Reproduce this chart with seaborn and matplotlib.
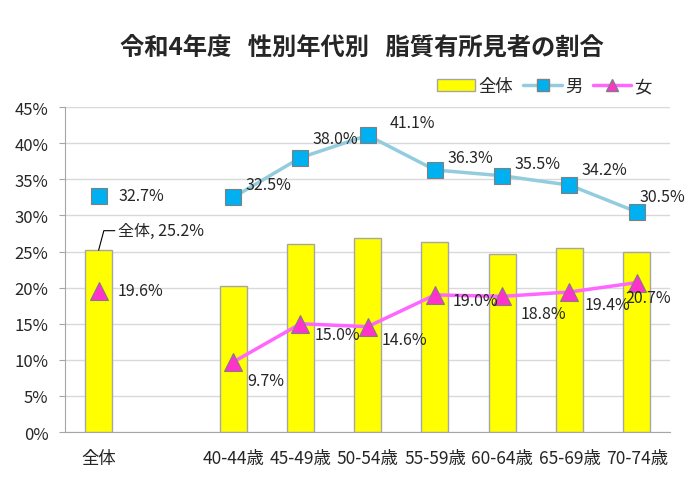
import numpy as np
import pandas as pd
import matplotlib
matplotlib.use("Agg")
import matplotlib.pyplot as plt
import seaborn as sns
from matplotlib.patches import Patch
from matplotlib.lines import Line2D

categories = ["全体", " ", "40-44歳", "45-49歳", "50-54歳", "55-59歳", "60-64歳", "65-69歳", "70-74歳"]
total = [25.2, np.nan, 20.2, 26.1, 26.9, 26.3, 24.7, 25.5, 24.9]
male = [32.7, np.nan, 32.5, 38.0, 41.1, 36.3, 35.5, 34.2, 30.5]
female = [19.6, np.nan, 9.7, 15.0, 14.6, 19.0, 18.8, 19.4, 20.7]
title = "令和4年度   性別年代別   脂質有所見者の割合"

sns.set_style("white")
plt.rcParams["font.family"] = ["Noto Sans CJK JP", "DejaVu Sans"]

df = pd.DataFrame({"cat": categories, "total": total})

fig = plt.figure(figsize=(6.99, 4.85), dpi=100)
ax = fig.add_axes([0.093, 0.107, 0.866, 0.670])

sns.barplot(data=df, x="cat", y="total", order=categories, color="#FFFF00",
            saturation=1, edgecolor="#A6A6A6", linewidth=1, width=0.4, ax=ax)

x = np.arange(len(categories))
ax.plot(x, male, color="#93CDDD", lw=2.5, marker="s", ms=12,
        mfc="#00B0F0", mec="#7F7F7F", mew=0.8, zorder=4)
ax.plot(x, female, color="#FF66FF", lw=2.5, marker="^", ms=13,
        mfc="#FF33CC", mec="#7F7F7F", mew=0.8, zorder=4)

# data labels (offsets in points)
male_off = [(14, 0), None, (9, 9), (9, 14), (16, 9), (9, 9), (9, 9), (9, 11), (2, 11)]
female_off = [(14, 0), None, (10, -13), (10, -8), (10, -9), (13, -4), (13, -12), (11, -9), (-8, -11)]
for i in range(len(categories)):
    if male_off[i] is not None:
        dx, dy = male_off[i]
        ax.annotate(f"{male[i]:.1f}%", (x[i], male[i]), xytext=(dx, dy),
                    textcoords="offset points", ha="left", va="center",
                    fontsize=11.5, zorder=5)
    if female_off[i] is not None:
        dx, dy = female_off[i]
        ax.annotate(f"{female[i]:.1f}%", (x[i], female[i]), xytext=(dx, dy),
                    textcoords="offset points", ha="left", va="center",
                    fontsize=11.5, zorder=5)

ax.annotate(f"全体, {total[0]:.1f}%", (x[0], total[0]), xytext=(14, 14),
            textcoords="offset points", ha="left", va="center", fontsize=11.5,
            arrowprops=dict(arrowstyle="-", color="black", lw=0.8,
                            connectionstyle="angle,angleA=0,angleB=75,rad=0",
                            shrinkA=0, shrinkB=0, relpos=(0, 0.5)))

ax.set_ylim(0, 45)
ax.set_xlim(-0.5, len(categories) - 0.5)
ax.set_yticks(np.arange(0, 46, 5))
ax.set_yticklabels([f"{v}%" for v in range(0, 46, 5)])
ax.set_xlabel("")
ax.set_ylabel("")
ax.yaxis.grid(True, color="#D9D9D9", lw=1)
ax.set_axisbelow(True)
for s in ["top", "right"]:
    ax.spines[s].set_visible(False)
ax.spines["left"].set_color("#A6A6A6")
ax.spines["bottom"].set_color("#A6A6A6")
ax.tick_params(axis="y", left=True, length=4, color="#A6A6A6", pad=8, labelsize=12)
ax.tick_params(axis="x", length=0, pad=12, labelsize=12.5)

fig.text(0.518, 0.902, title, ha="center", va="center", fontsize=17.5, fontweight="bold")

handles = [
    Patch(facecolor="#FFFF00", edgecolor="#A6A6A6", label="全体"),
    Line2D([], [], color="#93CDDD", lw=2.5, marker="s", ms=8, mfc="#00B0F0", mec="#7F7F7F", label="男"),
    Line2D([], [], color="#FF66FF", lw=2.5, marker="^", ms=9, mfc="#FF33CC", mec="#7F7F7F", label="女"),
]
fig.legend(handles=handles, loc="center right", bbox_to_anchor=(0.955, 0.82), ncol=3,
           frameon=False, fontsize=12.5, handlelength=2.2, handletextpad=0.2,
           columnspacing=0.6)

fig.savefig("out.png", dpi=100)
